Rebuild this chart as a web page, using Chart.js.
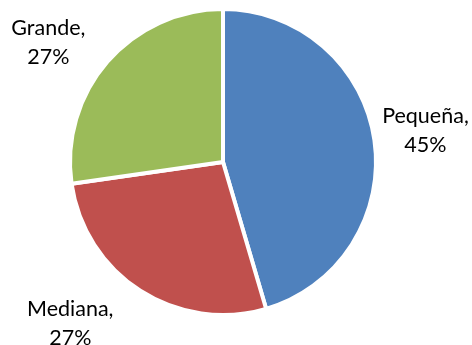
<!DOCTYPE html>
<html>
<head>
<meta charset="utf-8">
<script src="https://cdn.jsdelivr.net/npm/chart.js@4/dist/chart.umd.min.js"></script>
<style>
html,body{margin:0;padding:0;background:#fff;}
#wrap{width:472px;height:345px;position:relative;}
</style>
</head>
<body>
<div id="wrap"><canvas id="c" width="472" height="345"></canvas></div>
<script>
const categories = ["Pequeña", "Mediana", "Grande"];
const values = [5, 3, 3];
const percentLabels = ["45%", "27%", "27%"];
const colors = ["#4F81BD", "#C0504D", "#9BBB59"];

// label offsets (px) from the slice's outer edge midpoint
const labelOffsets = [[51, -10], [-70, 33], [-59, -19]];

const outsideLabels = {
  id: 'outsideLabels',
  afterDatasetsDraw(chart) {
    const ctx = chart.ctx;
    const meta = chart.getDatasetMeta(0);
    ctx.save();
    ctx.font = '21.5px Lato, "Open Sans", sans-serif';
    ctx.fillStyle = '#000';
    ctx.textAlign = 'center';
    ctx.textBaseline = 'middle';
    meta.data.forEach((arc, i) => {
      const p = arc.getProps(['x','y','startAngle','endAngle','outerRadius'], true);
      const mid = (p.startAngle + p.endAngle) / 2;
      const ex = p.x + Math.cos(mid) * p.outerRadius;
      const ey = p.y + Math.sin(mid) * p.outerRadius;
      const cx = ex + labelOffsets[i][0];
      const cy = ey + labelOffsets[i][1];
      ctx.fillText(categories[i] + ',', cx, cy - 14.5);
      ctx.fillText(percentLabels[i], cx, cy + 14.5);
    });
    ctx.restore();
  }
};

new Chart(document.getElementById('c'), {
  type: 'pie',
  data: {
    labels: categories,
    datasets: [{
      data: values,
      backgroundColor: colors,
      borderColor: '#ffffff',
      borderWidth: 4,
      hoverOffset: 0
    }]
  },
  options: {
    responsive: false,
    animation: false,
    layout: { padding: { top: 7, bottom: 28, left: 0, right: 26 } },
    plugins: {
      legend: { display: false },
      tooltip: { enabled: false }
    }
  },
  plugins: [outsideLabels]
});
</script>
</body>
</html>
